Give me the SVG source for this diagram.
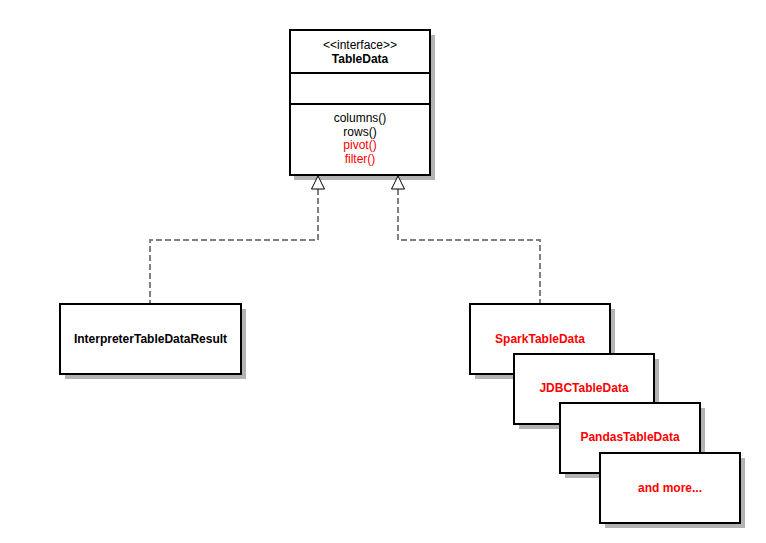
<svg xmlns="http://www.w3.org/2000/svg" width="766" height="543" viewBox="0 0 766 543">
<style>
.box{fill:#fff;stroke:#000;stroke-width:2}
.sh{fill:#b3b3b3}
.t{font-family:"Liberation Sans",Arial,sans-serif;font-size:12px;text-anchor:middle}
.b{font-weight:bold}
.r{fill:#ff0000}
.k{fill:#000}
.c{fill:none;stroke:#808080;stroke-width:2;stroke-dasharray:6,3}
.ah{fill:#fff;stroke:#000;stroke-width:1}
.sl{stroke:#b3b3b3;stroke-width:1}
</style>
<rect width="766" height="543" fill="#fff"/>
<g id="TableData">
<rect class="sh" x="294" y="35" width="141" height="145"/>
<line class="sl" x1="430" y1="73" x2="435" y2="73"/>
<line class="sl" x1="430" y1="104" x2="435" y2="104"/>
<rect class="box" x="290" y="30" width="140" height="145"/>
<line x1="290" y1="73" x2="430" y2="73" stroke="#000" stroke-width="2"/>
<line x1="290" y1="104" x2="430" y2="104" stroke="#000" stroke-width="2"/>
<text class="t k" x="360" y="49">&lt;&lt;interface&gt;&gt;</text>
<text class="t k b" x="360" y="62.5">TableData</text>
<text class="t k" x="360" y="122">columns()</text>
<text class="t k" x="360" y="135.5">rows()</text>
<text class="t r" x="360" y="149">pivot()</text>
<text class="t r" x="360" y="163">filter()</text>
</g>
<g id="connectors">
<polyline class="c" points="318,189 318,240 150,240 150,304"/>
<polyline class="c" points="398,189 398,240 540,240 540,304"/>
<polygon class="ah" points="318,176 311.5,189 324.5,189"/>
<polygon class="ah" points="398,176 391.5,189 404.5,189"/>
</g>
<g id="InterpreterTableDataResult">
<rect class="sh" x="65" y="309" width="181" height="70"/>
<rect class="box" x="60" y="304" width="181" height="70"/>
<text class="t k b" x="150.5" y="343">InterpreterTableDataResult</text>
</g>
<g id="SparkTableData">
<rect class="sh" x="475" y="309" width="140" height="70"/>
<rect class="box" x="470" y="304" width="140" height="70"/>
<text class="t r b" x="540" y="343">SparkTableData</text>
</g>
<g id="JDBCTableData">
<rect class="sh" x="519" y="359" width="140" height="70"/>
<rect class="box" x="514" y="354" width="140" height="70"/>
<text class="t r b" x="584" y="392">JDBCTableData</text>
</g>
<g id="PandasTableData">
<rect class="sh" x="565" y="408" width="140" height="70"/>
<rect class="box" x="560" y="403" width="140" height="70"/>
<text class="t r b" x="630" y="441">PandasTableData</text>
</g>
<g id="AndMore">
<rect class="sh" x="605" y="458" width="140" height="70"/>
<rect class="box" x="600" y="453" width="140" height="70"/>
<text class="t r b" x="670" y="492">and more...</text>
</g>
</svg>
